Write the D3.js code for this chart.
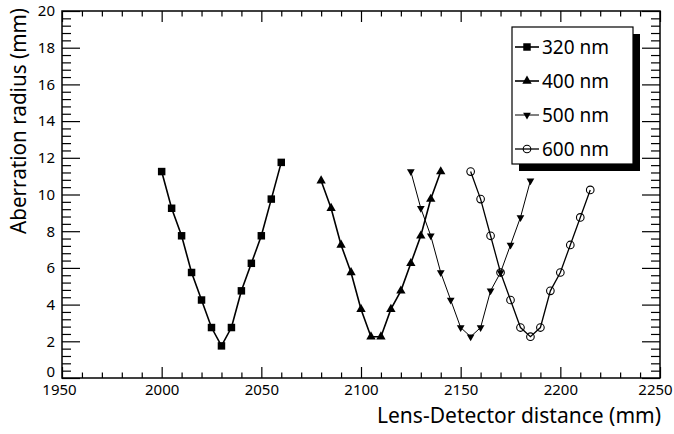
<!DOCTYPE html>
<html>
<head>
<meta charset="utf-8">
<script src="https://cdn.jsdelivr.net/npm/d3@7"></script>
<style>
  body { margin: 0; background: #fff; }
  text { font-family: "Noto Sans", "Open Sans", sans-serif; fill: #000; }
</style>
</head>
<body>
<svg id="chart" width="674" height="434"></svg>
<script>
// DATA: lens-detector distance (mm) vs aberration radius (mm)
const x320 = [2000, 2005, 2010, 2015, 2020, 2025, 2030, 2035, 2040, 2045, 2050, 2055, 2060];
const y320 = [11.25, 9.25, 7.75, 5.75, 4.25, 2.75, 1.75, 2.75, 4.75, 6.25, 7.75, 9.75, 11.75];

const x400 = [2080, 2085, 2090, 2095, 2100, 2105, 2110, 2115, 2120, 2125, 2130, 2135, 2140];
const y400 = [10.75, 9.25, 7.25, 5.75, 3.75, 2.25, 2.25, 3.75, 4.75, 6.25, 7.75, 9.75, 11.25];

const x500 = [2125, 2130, 2135, 2140, 2145, 2150, 2155, 2160, 2165, 2170, 2175, 2180, 2185];
const y500 = [11.25, 9.25, 7.75, 5.75, 4.25, 2.75, 2.25, 2.75, 4.75, 5.75, 7.25, 8.75, 10.75];

const x600 = [2155, 2160, 2165, 2170, 2175, 2180, 2185, 2190, 2195, 2200, 2205, 2210, 2215];
const y600 = [11.25, 9.75, 7.75, 5.75, 4.25, 2.75, 2.25, 2.75, 4.75, 5.75, 7.25, 8.75, 10.25];

const seriesNames = ["320 nm", "400 nm", "500 nm", "600 nm"];
const xTicks = [1950, 2000, 2050, 2100, 2150, 2200, 2250];
const yTicks = [0, 2, 4, 6, 8, 10, 12, 14, 16, 18, 20];

// SETUP
const frame = { left: 62, right: 660, top: 11, bottom: 378 };
const svg = d3.select("#chart");

const x = d3.scaleLinear().domain([1950, 2250]).range([frame.left, frame.right]);
const y = d3.scaleLinear().domain([0, 20]).range([frame.bottom, frame.top]);

const xMinor = d3.range(1950, 2251, 10).filter(v => v % 50 !== 0);
const yMinor = d3.range(0, 20.01, 0.4).map(v => +v.toFixed(1)).filter(v => Math.abs(v / 2 - Math.round(v / 2)) > 1e-6);

// AXES (ticks drawn inward on all four sides)
function tidy(g) {
  g.select(".domain").remove();
  g.selectAll("line").attr("stroke", "#000").attr("stroke-width", 1.2);
}

svg.append("g").attr("transform", `translate(0,${frame.bottom})`)
  .call(d3.axisBottom(x).tickValues(xTicks).tickSize(-11).tickPadding(6).tickFormat(d3.format("d")))
  .call(tidy)
  .call(g => g.selectAll("text").attr("font-size", 15).attr("font-family", "Noto Sans"))
  .call(g => g.selectAll("text").filter(d => d === 2250).attr("dx", -5))
  .call(g => g.selectAll("text").filter(d => d === 1950).attr("dx", -3));
svg.append("g").attr("transform", `translate(0,${frame.bottom})`)
  .call(d3.axisBottom(x).tickValues(xMinor).tickSize(-5.5).tickFormat(""))
  .call(tidy);
svg.append("g").attr("transform", `translate(0,${frame.top})`)
  .call(d3.axisTop(x).tickValues(xTicks).tickSize(-11).tickFormat(""))
  .call(tidy);
svg.append("g").attr("transform", `translate(0,${frame.top})`)
  .call(d3.axisTop(x).tickValues(xMinor).tickSize(-5.5).tickFormat(""))
  .call(tidy);

svg.append("g").attr("transform", `translate(${frame.left},0)`)
  .call(d3.axisLeft(y).tickValues(yTicks).tickSize(-18).tickPadding(7).tickFormat(d3.format("d")))
  .call(tidy)
  .call(g => g.selectAll("text").attr("font-size", 15).attr("font-family", "Noto Sans"))
  .call(g => g.selectAll("text").filter(d => d === 0).attr("y", -6));
svg.append("g").attr("transform", `translate(${frame.left},0)`)
  .call(d3.axisLeft(y).tickValues(yMinor).tickSize(-9).tickFormat(""))
  .call(tidy);
svg.append("g").attr("transform", `translate(${frame.right},0)`)
  .call(d3.axisRight(y).tickValues(yTicks).tickSize(-18).tickFormat(""))
  .call(tidy);
svg.append("g").attr("transform", `translate(${frame.right},0)`)
  .call(d3.axisRight(y).tickValues(yMinor).tickSize(-9).tickFormat(""))
  .call(tidy);

// frame
svg.append("rect")
  .attr("x", frame.left).attr("y", frame.top)
  .attr("width", frame.right - frame.left).attr("height", frame.bottom - frame.top)
  .attr("fill", "none").attr("stroke", "#000").attr("stroke-width", 1.5);

// SERIES
const series = [
  { name: seriesNames[0], xs: x320, ys: y320, width: 1.6, marker: "square" },
  { name: seriesNames[1], xs: x400, ys: y400, width: 1.6, marker: "up" },
  { name: seriesNames[2], xs: x500, ys: y500, width: 1.0, marker: "down" },
  { name: seriesNames[3], xs: x600, ys: y600, width: 1.3, marker: "circle" }
];

function drawMarker(g, type) {
  if (type === "square") {
    g.append("path").attr("d", d3.symbol(d3.symbolSquare, 56)()).attr("fill", "#000");
  } else if (type === "up") {
    g.append("path").attr("d", d3.symbol(d3.symbolTriangle, 38)()).attr("fill", "#000");
  } else if (type === "down") {
    g.append("path").attr("d", d3.symbol(d3.symbolTriangle, 26)())
      .attr("transform", "rotate(180)").attr("fill", "#000");
  } else {
    g.append("circle").attr("r", 3.8).attr("fill", "none")
      .attr("stroke", "#000").attr("stroke-width", 1.1);
  }
}

const line = d3.line().x(d => x(d[0])).y(d => y(d[1]));

series.forEach(s => {
  const pts = s.xs.map((v, i) => [v, s.ys[i]]);
  svg.append("path")
    .datum(pts)
    .attr("d", line)
    .attr("fill", "none")
    .attr("stroke", "#000")
    .attr("stroke-width", s.width);

  svg.append("g").selectAll("g")
    .data(pts)
    .enter()
    .append("g")
    .attr("transform", d => `translate(${x(d[0])},${y(d[1])})`)
    .each(function () { drawMarker(d3.select(this), s.marker); });
});

// LEGEND
const legend = { x: 512, y: 27, w: 121, h: 137 };
svg.append("rect")
  .attr("x", legend.x + 7).attr("y", legend.y + 7)
  .attr("width", legend.w).attr("height", legend.h)
  .attr("fill", "#000");
svg.append("rect")
  .attr("x", legend.x).attr("y", legend.y)
  .attr("width", legend.w).attr("height", legend.h)
  .attr("fill", "#fff").attr("stroke", "#000").attr("stroke-width", 1.2);

const legendY = d3.scalePoint().domain(seriesNames).range([47, 149]);
series.forEach(s => {
  const cy = legendY(s.name);
  svg.append("line")
    .attr("x1", 515).attr("x2", 539).attr("y1", cy).attr("y2", cy)
    .attr("stroke", "#000").attr("stroke-width", s.width);
  const g = svg.append("g").attr("transform", `translate(527,${cy})`);
  drawMarker(g, s.marker);
  svg.append("text")
    .attr("x", 542).attr("y", cy + 6.5)
    .attr("font-size", 19)
    .text(s.name);
});

// AXIS TITLES
svg.append("text")
  .attr("text-anchor", "end")
  .attr("transform", `translate(26,${frame.top - 3}) rotate(-90)`)
  .attr("font-size", 21)
  .attr("textLength", 226)
  .attr("lengthAdjust", "spacingAndGlyphs")
  .text("Aberration radius (mm)");

svg.append("text")
  .attr("text-anchor", "end")
  .attr("x", 661).attr("y", 423)
  .attr("font-size", 22)
  .attr("textLength", 284)
  .attr("lengthAdjust", "spacingAndGlyphs")
  .text("Lens-Detector distance (mm)");
</script>
</body>
</html>
